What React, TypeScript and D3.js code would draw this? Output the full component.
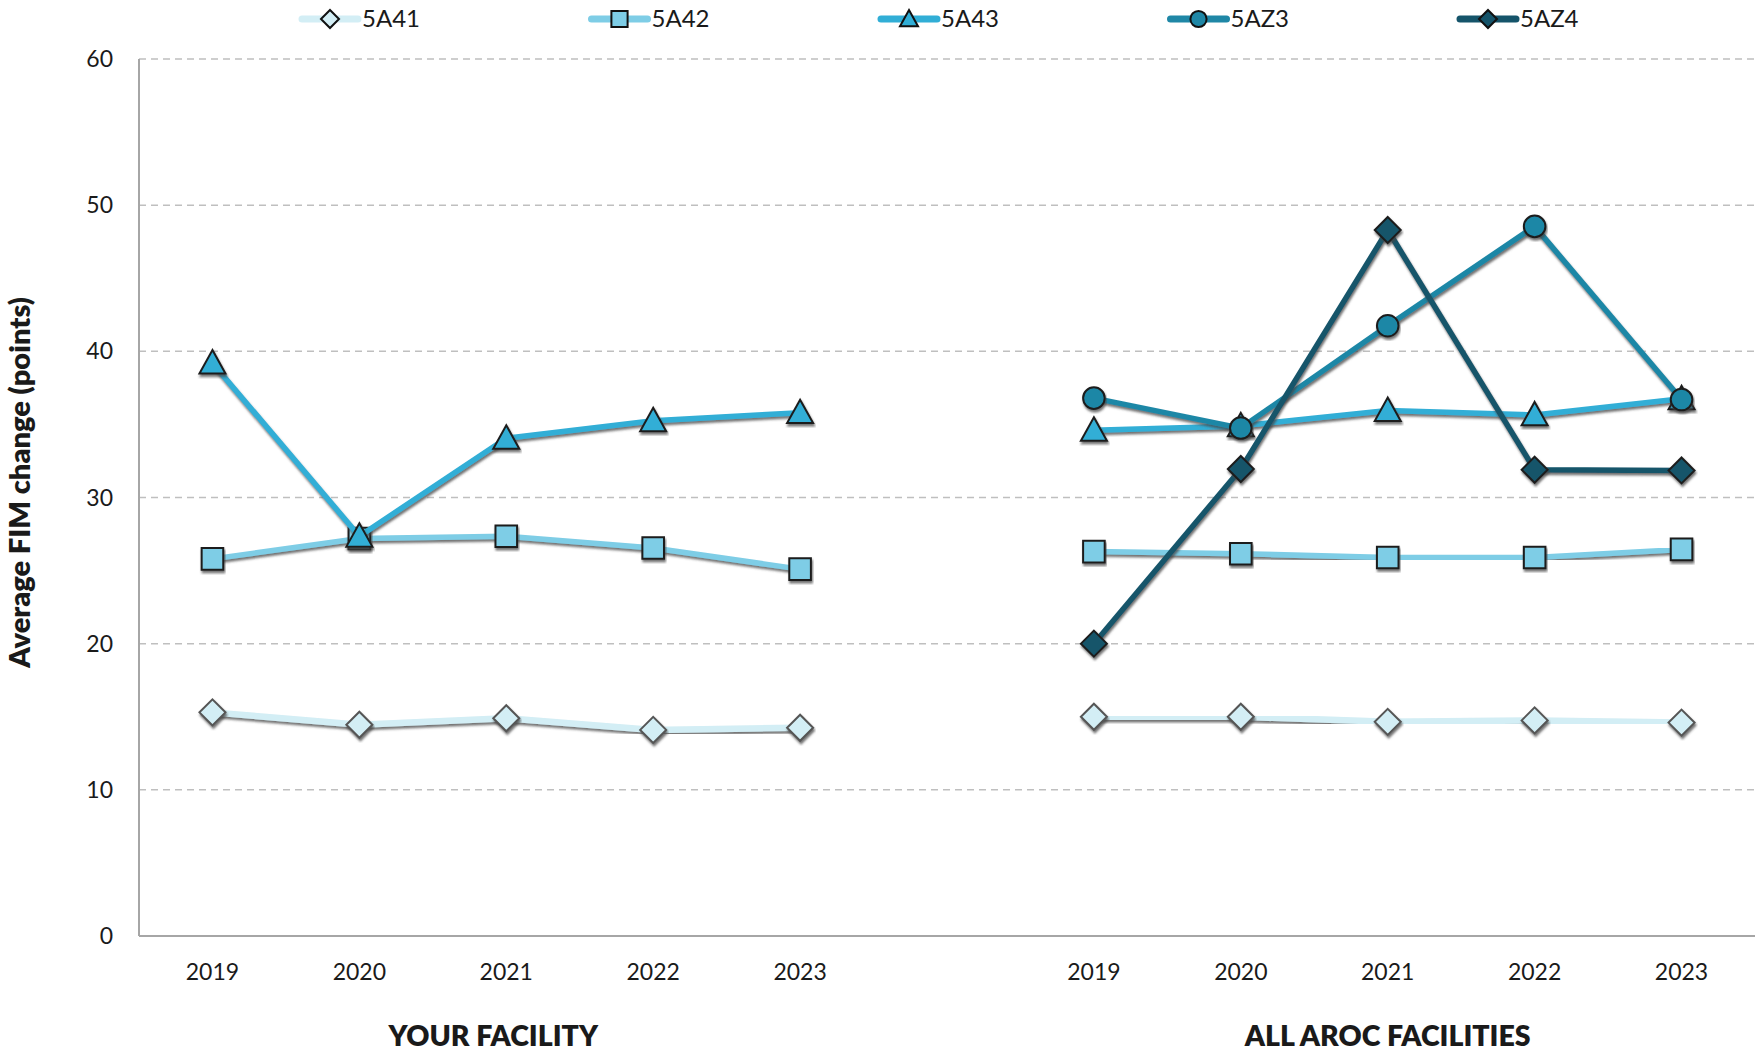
import React from 'react';
import * as d3 from 'd3';

const years = ['2019', '2020', '2021', '2022', '2023'];
const groupNames = ['YOUR FACILITY', 'ALL AROC FACILITIES'];
const yTicks = [0, 10, 20, 30, 40, 50, 60];
const seriesNames = ['5A41', '5A42', '5A43', '5AZ3', '5AZ4'];

// Your facility values (null = no data)
const your5A41 = [15.3, 14.45, 14.9, 14.1, 14.25];
const your5A42 = [25.8, 27.2, 27.35, 26.55, 25.1];
const your5A43 = [39.2, 27.35, 34.05, 35.25, 35.8];
const your5AZ3: (number | null)[] = [null, null, null, null, null];
const your5AZ4: (number | null)[] = [null, null, null, null, null];

// All AROC facilities values
const all5A41 = [15.0, 15.0, 14.65, 14.75, 14.6];
const all5A42 = [26.3, 26.15, 25.9, 25.9, 26.45];
const all5A43 = [34.6, 34.9, 35.95, 35.65, 36.75];
const all5AZ3 = [36.8, 34.75, 41.75, 48.55, 36.7];
const all5AZ4 = [20.0, 31.95, 48.3, 31.9, 31.85];

const colors = ['#D3EEF5', '#7ECDE6', '#31AED6', '#1F87A6', '#15546A'];
const markerStroke = ['#555555', '#1d1d1d', '#1d1d1d', '#1d1d1d', '#1d1d1d'];
const markerShapes = ['diamond', 'square', 'triangle', 'circle', 'diamond'];

const W = 1758;
const H = 1053;
const plotLeft = 139;
const plotRight = 1755;
const plotTop = 59;
const plotBottom = 936;
const FONT = 'Lato, "Open Sans", sans-serif';

function markerPath(shape: string, size: number): string {
  const s = size / 2;
  if (shape === 'diamond') return `M0,${-s}L${s},0L0,${s}L${-s},0Z`;
  if (shape === 'square') return `M${-s * 0.9},${-s * 0.9}H${s * 0.9}V${s * 0.9}H${-s * 0.9}Z`;
  if (shape === 'triangle') return `M0,${-s}L${s},${s * 0.8}L${-s},${s * 0.8}Z`;
  return d3.symbol(d3.symbolCircle, Math.PI * (s * 0.9) * (s * 0.9))() || '';
}

export default function App() {
  const slots = d3.range(11);
  const x = d3.scaleBand<number>().domain(slots).range([plotLeft, plotRight]).padding(0);
  const bw = x.bandwidth();
  const cx = (i: number) => (x(i) as number) + bw / 2;
  const y = d3.scaleLinear().domain([0, 60]).range([plotBottom, plotTop]);

  const yourData = [your5A41, your5A42, your5A43, your5AZ3, your5AZ4];
  const allData = [all5A41, all5A42, all5A43, all5AZ3, all5AZ4];
  const groups = [
    { start: 0, data: yourData },
    { start: 6, data: allData },
  ];

  const line = d3
    .line<{ i: number; v: number | null }>()
    .defined((d) => d.v !== null)
    .x((d) => cx(d.i))
    .y((d) => y(d.v as number));

  const legendX0 = 302;
  const legendStep = 289.5;
  const legendY = 19;

  return (
    <div style={{ position: 'absolute', left: 0, top: 0 }}>
      <svg width={W} height={H} style={{ display: 'block', background: '#fff' }}>
        <defs>
          <filter id="shadow" x="-10%" y="-10%" width="120%" height="130%">
            <feDropShadow dx="1" dy="2.5" stdDeviation="1" floodColor="#444" floodOpacity="0.75" />
          </filter>
        </defs>
        {/* gridlines */}
        {yTicks.filter((t) => t > 0).map((t) => (
          <line key={t} x1={plotLeft} x2={plotRight} y1={y(t)} y2={y(t)} stroke="#BFBFBF" strokeWidth={1.5} strokeDasharray="7,5" />
        ))}
        {/* axes */}
        <line x1={plotLeft} x2={plotLeft} y1={plotTop} y2={plotBottom} stroke="#A6A6A6" strokeWidth={2} />
        <line x1={plotLeft} x2={plotRight} y1={plotBottom} y2={plotBottom} stroke="#A6A6A6" strokeWidth={2} />
        {/* y tick labels */}
        {yTicks.map((t) => (
          <text key={t} x={113} y={y(t)} dy="0.35em" textAnchor="end" fontFamily={FONT} fontSize={23} fill="#1a1a1a">{t}</text>
        ))}
        {/* y axis title */}
        <text transform={`translate(20,${(plotTop + plotBottom) / 2 - 15}) rotate(-90)`} textAnchor="middle" dy="0.35em" fontFamily={FONT} fontWeight={800} fontSize={29} fill="#1a1a1a">Average FIM change (points)</text>
        {/* x tick labels */}
        {groups.map((g) => years.map((yr, k) => (
          <text key={`${g.start}-${yr}`} x={cx(g.start + k)} y={972} dy="0.35em" textAnchor="middle" fontFamily={FONT} fontSize={23} fill="#1a1a1a">{yr}</text>
        )))}
        {/* group labels */}
        {groups.map((g, gi) => (
          <text key={gi} x={gi === 0 ? cx(g.start + 2) - 13 : cx(g.start + 2)} y={1036} dy="0.35em" textAnchor="middle" fontFamily={FONT} fontWeight={800} fontSize={28.5} fill="#1a1a1a">{groupNames[gi]}</text>
        ))}
        {/* series */}
        {seriesNames.map((name, si) => (
          <g key={name}>
            {groups.map((g) => {
              const pts = g.data[si].map((v, k) => ({ i: g.start + k, v }));
              return (
                <g key={g.start}>
                  <path d={line(pts) || ''} fill="none" stroke={colors[si]} strokeWidth={si === 0 ? 6.5 : 5.5} strokeLinejoin="round" filter="url(#shadow)" />
                  {pts.filter((p) => p.v !== null).map((p) => (
                    <path key={p.i} d={markerPath(markerShapes[si], markerShapes[si] === 'circle' ? 24 : markerShapes[si] === 'square' ? 24 : 26)} transform={`translate(${cx(p.i)},${y(p.v as number)})`} fill={si === 0 ? '#D3EEF5' : colors[si]} stroke={markerStroke[si]} strokeWidth={2} filter="url(#shadow)" />
                  ))}
                </g>
              );
            })}
          </g>
        ))}
        {/* legend */}
        {seriesNames.map((name, si) => {
          const lx = legendX0 + si * legendStep;
          return (
            <g key={name}>
              <line x1={lx} x2={lx + 56} y1={legendY} y2={legendY} stroke={colors[si]} strokeWidth={7} strokeLinecap="round" />
              <path d={markerPath(markerShapes[si], 18)} transform={`translate(${lx + 28},${legendY})`} fill={si === 0 ? '#D3EEF5' : colors[si]} stroke="#111" strokeWidth={2} />
              <text x={lx + 60} y={legendY} dy="0.35em" fontFamily={FONT} fontSize={24} fill="#1a1a1a">{name}</text>
            </g>
          );
        })}
      </svg>
    </div>
  );
}
